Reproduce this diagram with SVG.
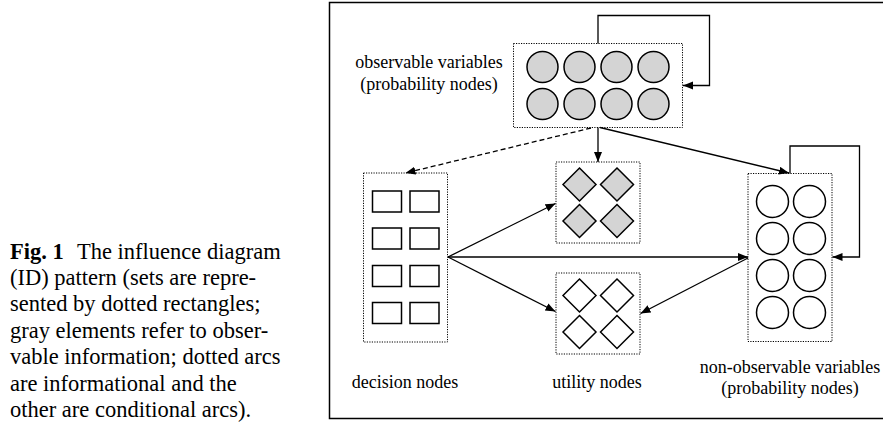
<svg xmlns="http://www.w3.org/2000/svg" width="883" height="423" viewBox="0 0 883 423">
<defs>
<marker id="ah" markerUnits="userSpaceOnUse" markerWidth="11" markerHeight="9" refX="10" refY="4" orient="auto">
<path d="M0,0 L10,4 L0,8 z" fill="#000"/>
</marker>
<style>
.set{fill:none;stroke:#000;stroke-width:1;stroke-dasharray:1.2,1.3}
.obs{fill:#d4d4d4;stroke:#000;stroke-width:1.5}
.hid{fill:#fff;stroke:#000;stroke-width:1.5}
.dec{fill:#fff;stroke:#000;stroke-width:1.5}
.con{fill:none;stroke:#000;stroke-width:1.3}
.inf{fill:none;stroke:#000;stroke-width:1.3;stroke-dasharray:5,3}
.lbl{font-family:"Liberation Serif","Times New Roman",serif;font-size:18px;fill:#000;text-anchor:middle}
.cap{font-family:"Liberation Serif","Times New Roman",serif;font-size:22.5px;fill:#000}
</style>
</defs>
<rect width="883" height="423" fill="#fff"/>
<g id="caption">
<text class="cap" x="10" y="258.5"><tspan font-weight="bold">Fig. 1</tspan><tspan x="77">The influence diagram</tspan></text>
<text class="cap" x="10" y="284.9">(ID) pattern (sets are repre-</text>
<text class="cap" x="10" y="311.3">sented by dotted rectangles;</text>
<text class="cap" x="10" y="337.7">gray elements refer to obser-</text>
<text class="cap" x="10" y="364.1">vable information; dotted arcs</text>
<text class="cap" x="10" y="390.5">are informational and the</text>
<text class="cap" x="10" y="416.9">other are conditional arcs).</text>
</g>
<g id="frame">
<path d="M889,2.5 H329.5 V418.5 H889" fill="none" stroke="#000" stroke-width="1.5"/>
</g>
<g id="observable">
<rect class="set" x="513.5" y="43.5" width="169" height="84"/>
<circle class="obs" cx="542.5" cy="67" r="15.5"/>
<circle class="obs" cx="579.5" cy="67" r="15.5"/>
<circle class="obs" cx="616.5" cy="67" r="15.5"/>
<circle class="obs" cx="653.5" cy="67" r="15.5"/>
<circle class="obs" cx="542.5" cy="104" r="15.5"/>
<circle class="obs" cx="579.5" cy="104" r="15.5"/>
<circle class="obs" cx="616.5" cy="104" r="15.5"/>
<circle class="obs" cx="653.5" cy="104" r="15.5"/>
<text class="lbl" x="429" y="68">observable variables</text>
<text class="lbl" x="429" y="90">(probability nodes)</text>
</g>
<g id="decision">
<rect class="set" x="363.5" y="173" width="84" height="169"/>
<rect class="dec" x="372.5" y="191" width="29" height="21"/>
<rect class="dec" x="410" y="191" width="29" height="21"/>
<rect class="dec" x="372.5" y="228" width="29" height="21"/>
<rect class="dec" x="410" y="228" width="29" height="21"/>
<rect class="dec" x="372.5" y="265.5" width="29" height="21"/>
<rect class="dec" x="410" y="265.5" width="29" height="21"/>
<rect class="dec" x="372.5" y="302.5" width="29" height="21"/>
<rect class="dec" x="410" y="302.5" width="29" height="21"/>
<text class="lbl" x="405" y="388">decision nodes</text>
</g>
<g id="utility-observable">
<rect class="set" x="556" y="162" width="84" height="81"/>
<path class="obs" d="M579.5,168 L596,184.5 L579.5,201 L563,184.5 Z"/>
<path class="obs" d="M617,168 L633.5,184.5 L617,201 L600.5,184.5 Z"/>
<path class="obs" d="M579.5,204.5 L596,221 L579.5,237.5 L563,221 Z"/>
<path class="obs" d="M617,204.5 L633.5,221 L617,237.5 L600.5,221 Z"/>
</g>
<g id="utility">
<rect class="set" x="556" y="273" width="84" height="81"/>
<path class="hid" d="M579.5,279 L596,295.5 L579.5,312 L563,295.5 Z"/>
<path class="hid" d="M617,279 L633.5,295.5 L617,312 L600.5,295.5 Z"/>
<path class="hid" d="M579.5,315.5 L596,332 L579.5,348.5 L563,332 Z"/>
<path class="hid" d="M617,315.5 L633.5,332 L617,348.5 L600.5,332 Z"/>
<text class="lbl" x="597" y="388">utility nodes</text>
</g>
<g id="nonobservable">
<rect class="set" x="748" y="173.5" width="84" height="168"/>
<circle class="hid" cx="772.5" cy="201.5" r="16"/>
<circle class="hid" cx="809.5" cy="201.5" r="16"/>
<circle class="hid" cx="772.5" cy="238.5" r="16"/>
<circle class="hid" cx="809.5" cy="238.5" r="16"/>
<circle class="hid" cx="772.5" cy="275.5" r="16"/>
<circle class="hid" cx="809.5" cy="275.5" r="16"/>
<circle class="hid" cx="772.5" cy="312.5" r="16"/>
<circle class="hid" cx="809.5" cy="312.5" r="16"/>
<text class="lbl" x="790" y="373">non-observable variables</text>
<text class="lbl" x="790" y="394">(probability nodes)</text>
</g>
<g id="connectors">
<path class="con" d="M598,43.5 V15.5 H709.5 V85.5 H683" marker-end="url(#ah)"/>
<path class="con" d="M598,127.5 V162" marker-end="url(#ah)"/>
<path class="inf" d="M591,128 L405.5,173" marker-end="url(#ah)"/>
<path class="con" d="M600,127.5 L789,173" marker-end="url(#ah)"/>
<path class="con" d="M790,173.5 V146 H859.5 V257 H832.5" marker-end="url(#ah)"/>
<path class="con" d="M448,257 L555.5,203.5" marker-end="url(#ah)"/>
<path class="con" d="M448,257 L555.5,311.5" marker-end="url(#ah)"/>
<path class="con" d="M448,257 L748,257" marker-end="url(#ah)"/>
<path class="con" d="M748,258 L640.5,313.5" marker-end="url(#ah)"/>
</g>
</svg>
